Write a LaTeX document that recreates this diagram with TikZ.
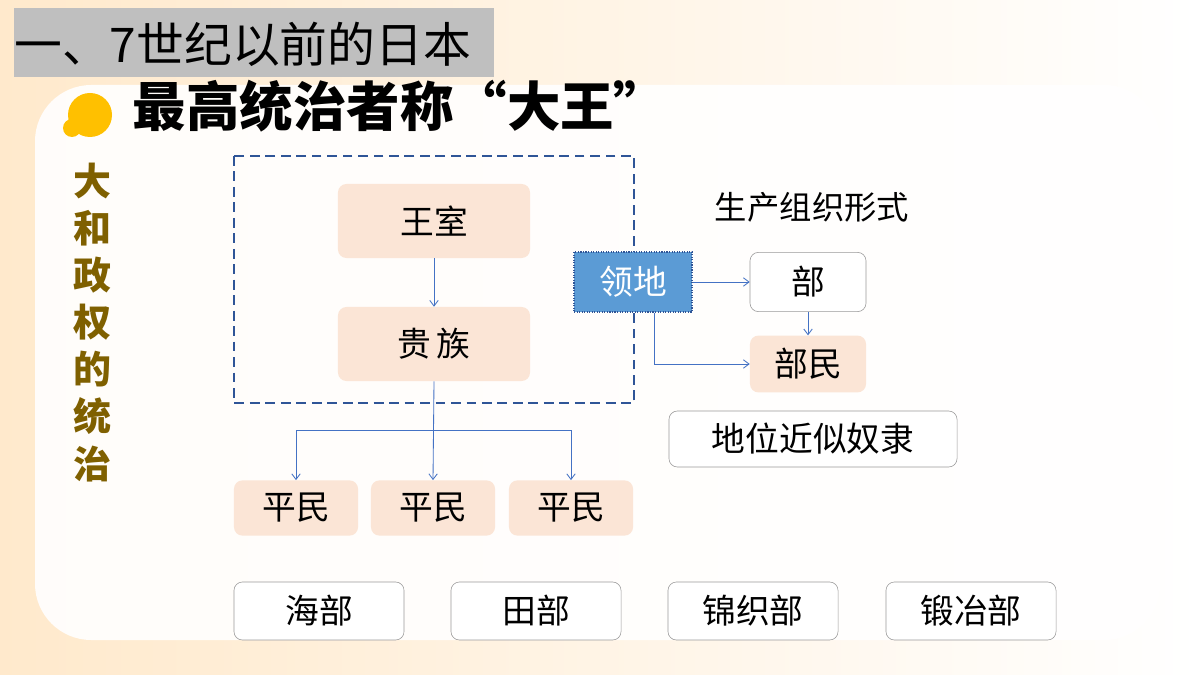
\documentclass[tikz,border=0pt]{standalone}
\usepackage{fontspec}
\setmainfont{Noto Sans CJK SC}
\usetikzlibrary{positioning,arrows.meta}
\definecolor{peach}{HTML}{FBE5D6}
\definecolor{linkblue}{HTML}{4472C4}
\definecolor{frameblue}{HTML}{2F5597}
\definecolor{landblue}{HTML}{5B9BD5}
\definecolor{brownish}{HTML}{7F6000}
\definecolor{sun}{HTML}{FFC000}
\tikzset{
  box/.style={draw=none,fill=peach,rounded corners=6pt,inner sep=0pt,font=\fontsize{24}{24}\selectfont},
  wbox/.style={draw=gray!80,fill=white,rounded corners=6pt,inner sep=0pt,font=\fontsize{24}{24}\selectfont},
  link/.style={draw=linkblue,-{Straight Barb[length=4pt,width=6pt]},semithick},
}
\begin{document}
\begin{tikzpicture}[x=0.025cm,y=-0.025cm]
  \useasboundingbox (0,0) rectangle (1200,675);
  \shade[left color=yellow!15!orange!20,right color=white] (0,0) rectangle (1200,675);
  \fill[white,opacity=0.9,rounded corners=40pt] (35,85) rectangle (1160,640);
  %
  \fill[gray!50] (14,8) rectangle (494,77);
  \node[anchor=west,inner sep=0pt,font=\fontsize{34}{34}\selectfont] (title) at (14,44) {一、7世纪以前的日本};
  \fill[sun] (90,115) circle (22);
  \fill[sun] (72,128) circle (9);
  \node[anchor=west,font=\bfseries\fontsize{38}{38}\selectfont] (head) at (128,106) {最高统治者称“大王”};
  \node[anchor=north,text width=30pt,align=center,text=brownish,font=\bfseries\fontsize{27}{33.5}\selectfont] (side) at (92,158) {大\\和\\政\\权\\的\\统\\治};
  %
  \draw[frameblue,thick,dash pattern=on 7pt off 4pt] (234,156) rectangle (634,403);
  \node[box,minimum width=4.8cm,minimum height=1.85cm] (wang) at (434,221) {王室};
  \node[box,minimum width=4.8cm,minimum height=1.85cm] (gui) at (434,344) {贵\,族};
  \node[draw=frameblue,densely dotted,thick,fill=landblue,text=white,minimum width=2.95cm,minimum height=1.5cm,inner sep=0pt,font=\fontsize{24}{24}\selectfont] (land) at (633,282) {领地};
  \node[wbox,minimum width=2.9cm,minimum height=1.48cm] (bu) at (808,282) {部};
  \node[box,minimum width=2.9cm,minimum height=1.42cm] (bumin) at (808,364) {部民};
  \node[font=\fontsize{23}{23}\selectfont] (form) at (812,207) {生产组织形式};
  \node[wbox,minimum width=7.2cm,minimum height=1.4cm] (status) at (813,439) {地位近似奴隶};
  %
  \node[box,minimum width=3.1cm,minimum height=1.38cm] (p1) at (296,508) {平民};
  \node[box,minimum width=3.1cm,minimum height=1.38cm] (p2) at (433,508) {平民};
  \node[box,minimum width=3.1cm,minimum height=1.38cm] (p3) at (571,508) {平民};
  %
  \node[wbox,minimum width=4.25cm,minimum height=1.45cm] (hai) at (319,611) {海部};
  \node[wbox,minimum width=4.25cm,minimum height=1.45cm] (tian) at (536,611) {田部};
  \node[wbox,minimum width=4.25cm,minimum height=1.45cm] (jin) at (753,611) {锦织部};
  \node[wbox,minimum width=4.25cm,minimum height=1.45cm] (duan) at (971,611) {锻冶部};
  %
  \coordinate (split) at (433,430);
  \draw[link] (wang) -- (gui);
  \draw[link] (gui.south) -- (p2.north);
  \draw[link] (split) -| (p1.north);
  \draw[link] (split) -| (p3.north);
  \draw[link] (land) -- (bu);
  \draw[link] (bu) -- (bumin);
  \draw[link] ([xshift=15]land.south) |- (bumin.west);
\end{tikzpicture}
\end{document}
